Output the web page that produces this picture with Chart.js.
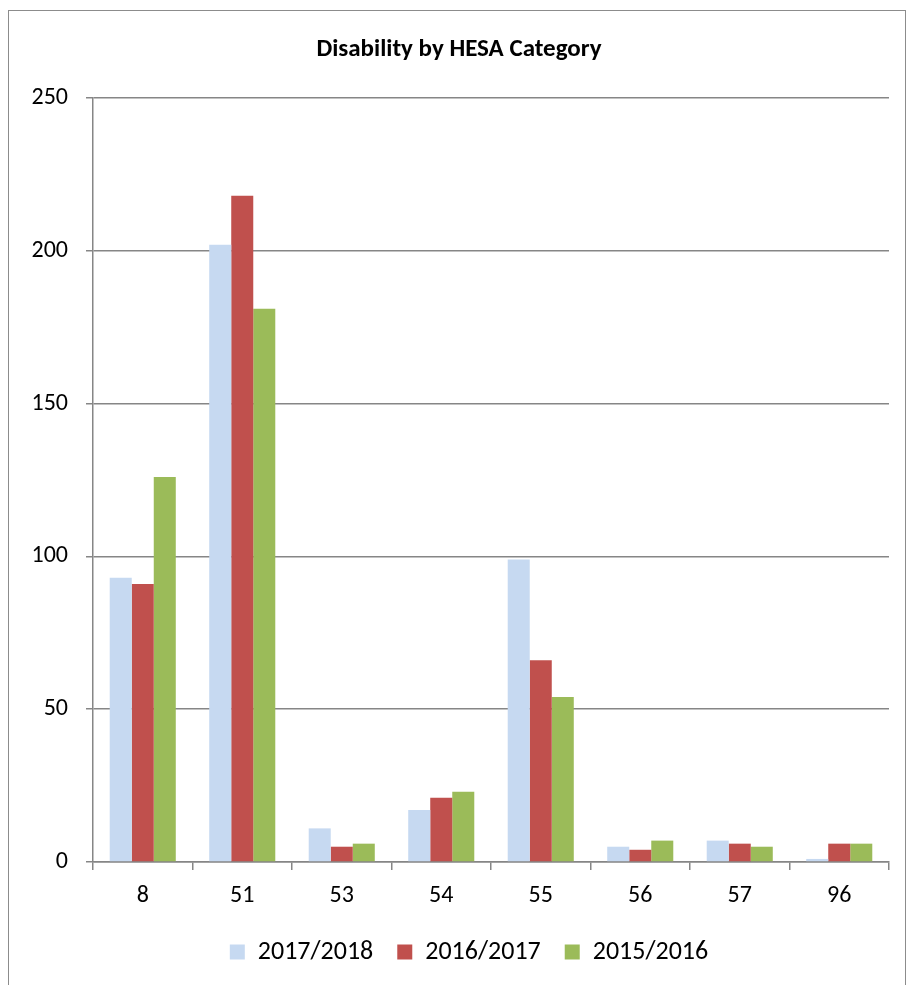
<!DOCTYPE html>
<html>
<head>
<meta charset="utf-8">
<title>Disability by HESA Category</title>
<script src="https://cdn.jsdelivr.net/npm/chart.js@4/dist/chart.umd.min.js"></script>
<style>
  html, body { margin: 0; padding: 0; background: #ffffff; }
  #wrap { position: relative; width: 910px; height: 985px; }
</style>
</head>
<body>
<div id="wrap"><canvas id="chart" width="910" height="985"></canvas></div>
<script>
// HESA disability codes along the x axis
const categories = ['8', '51', '53', '54', '55', '56', '57', '96'];

// Student counts per code, one array per academic year
const series2017_2018 = [93, 202, 11, 17, 99, 5, 7, 1];
const series2016_2017 = [91, 218, 5, 21, 66, 4, 6, 6];
const series2015_2016 = [126, 181, 6, 23, 54, 7, 5, 6];

const seriesLabels = ['2017/2018', '2016/2017', '2015/2016'];
const yTicks = [0, 50, 100, 150, 200, 250];

const FONT = "'Carlito', 'Liberation Sans', Arial, sans-serif";
const GRID = '#868686';

// thin frame around the whole chart (open at the bottom edge)
const framePlugin = {
  id: 'frame',
  beforeDraw(chart) {
    const ctx = chart.ctx;
    ctx.save();
    ctx.strokeStyle = '#8c8c8c';
    ctx.lineWidth = 1;
    ctx.strokeRect(8.5, 10.5, 897, 1000);
    ctx.restore();
  }
};

// nudge the legend row a little to the right of the plain centre
const legendShift = {
  id: 'legendShift',
  afterLayout(chart) {
    if (chart.legend) {
      chart.legend.left += 10;
      chart.legend.right += 10;
    }
  }
};

new Chart(document.getElementById('chart'), {
  type: 'bar',
  data: {
    labels: categories,
    datasets: [
      { label: seriesLabels[0], data: series2017_2018, backgroundColor: '#C6D9F1' },
      { label: seriesLabels[1], data: series2016_2017, backgroundColor: '#C0504D' },
      { label: seriesLabels[2], data: series2015_2016, backgroundColor: '#9BBB59' }
    ]
  },
  options: {
    responsive: false,
    animation: false,
    devicePixelRatio: 1,
    categoryPercentage: 0.664,
    barPercentage: 1,
    layout: { padding: { left: 29, right: 21, top: 0, bottom: 10 } },
    plugins: {
      title: {
        display: true,
        text: 'Disability by HESA Category',
        color: '#000',
        font: { family: FONT, size: 25, weight: 'bold' },
        padding: { top: 35, bottom: 33 }
      },
      legend: {
        position: 'bottom',
        maxHeight: 60,
        labels: {
          color: '#000',
          font: { family: FONT, size: 26 },
          boxWidth: 15,
          boxHeight: 15,
          padding: 24
        }
      },
      tooltip: { enabled: false }
    },
    scales: {
      x: {
        afterFit(scale) { scale.height = 53; },
        grid: {
          offset: true,
          drawOnChartArea: false,
          drawTicks: true,
          tickLength: 8,
          color: GRID,
          lineWidth: 1.5
        },
        border: { color: GRID, width: 1.5 },
        ticks: {
          color: '#000',
          font: { family: FONT, size: 24 },
          padding: 12,
          maxRotation: 0
        }
      },
      y: {
        min: 0,
        max: 250,
        afterBuildTicks(scale) {
          scale.ticks = yTicks.map(v => ({ value: v }));
        },
        afterFit(scale) { scale.width = 64; },
        grid: {
          color: GRID,
          lineWidth: 1.5,
          drawTicks: true,
          tickLength: 7
        },
        border: { color: GRID, width: 1.5 },
        ticks: {
          color: '#000',
          font: { family: FONT, size: 24 },
          padding: 18
        }
      }
    }
  },
  plugins: [framePlugin, legendShift]
});
</script>
</body>
</html>
